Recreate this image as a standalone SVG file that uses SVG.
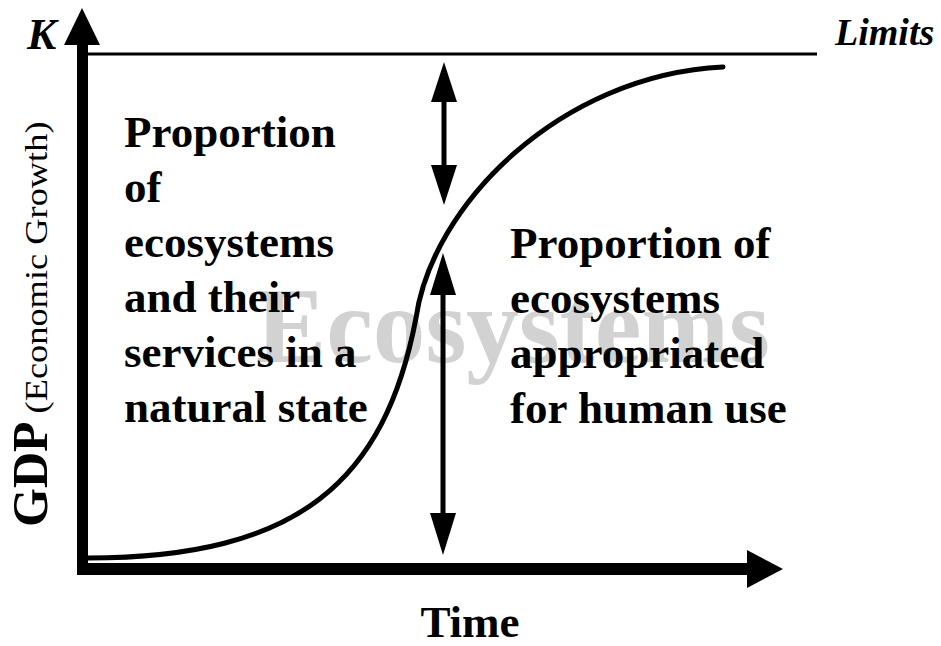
<svg xmlns="http://www.w3.org/2000/svg" width="941" height="646" viewBox="0 0 941 646">
<style>
.lbl{font-family:"Liberation Serif","Times New Roman",serif;font-weight:bold;font-size:45px;fill:#000}
.ital{font-family:"Liberation Serif","Times New Roman",serif;font-weight:bold;font-style:italic;fill:#000}
.wm{font-family:"Liberation Serif","Times New Roman",serif;font-weight:bold;font-size:108px;fill:#d2d2d2}
.shaft{stroke:#000;stroke-width:5;fill:none}
.head{fill:#000}
</style>
<rect width="941" height="646" fill="#fff"/>
<g id="watermark">
<text class="wm" x="256" y="362" textLength="514" lengthAdjust="spacingAndGlyphs">Ecosystems</text>
</g>
<g id="axes">
<rect x="77" y="44" width="11" height="531" fill="#000"/>
<polygon points="64,45 82,8 100,45" fill="#000"/>
<rect x="77" y="563" width="671" height="12" fill="#000"/>
<polygon points="747,550 783,569 747,588" fill="#000"/>
<line x1="88" y1="54" x2="817" y2="54" stroke="#000" stroke-width="3"/>
</g>
<g id="curve">
<path d="M 88 558 C 300 558, 385 480, 416 318 C 432 205, 560 75, 723 67" fill="none" stroke="#000" stroke-width="5" stroke-linecap="round"/>
</g>
<g id="connectors">
<g id="arrow-upper">
<line class="shaft" x1="444" y1="100" x2="444" y2="167"/>
<polygon class="head" points="431,102 444,62 457,102"/>
<polygon class="head" points="431,165 444,205 457,165"/>
</g>
<g id="arrow-lower">
<line class="shaft" x1="443" y1="293" x2="443" y2="515"/>
<polygon class="head" points="430,295 443,253 456,295"/>
<polygon class="head" points="430,513 443,555 456,513"/>
</g>
</g>
<g id="label-natural">
<text class="lbl" x="124" y="147">Proportion</text>
<text class="lbl" x="124" y="202">of</text>
<text class="lbl" x="124" y="257">ecosystems</text>
<text class="lbl" x="124" y="312">and their</text>
<text class="lbl" x="124" y="367">services in a</text>
<text class="lbl" x="124" y="422">natural state</text>
</g>
<g id="label-human">
<text class="lbl" x="510" y="258">Proportion of</text>
<text class="lbl" x="510" y="313">ecosystems</text>
<text class="lbl" x="510" y="368">appropriated</text>
<text class="lbl" x="510" y="423">for human use</text>
</g>
<g id="label-k"><text class="ital" x="27" y="49" font-size="44">K</text></g>
<g id="label-limits"><text class="ital" x="835" y="45" font-size="38">Limits</text></g>
<g id="label-time"><text class="lbl" x="470" y="637" text-anchor="middle">Time</text></g>
<g id="label-gdp" transform="translate(47,527) rotate(-90)">
<text x="0" y="0" font-family="'Liberation Serif','Times New Roman',serif"><tspan font-weight="bold" font-size="50">GDP</tspan><tspan font-size="31" dx="8" textLength="292" lengthAdjust="spacingAndGlyphs">(Economic Growth)</tspan></text>
</g>
</svg>
